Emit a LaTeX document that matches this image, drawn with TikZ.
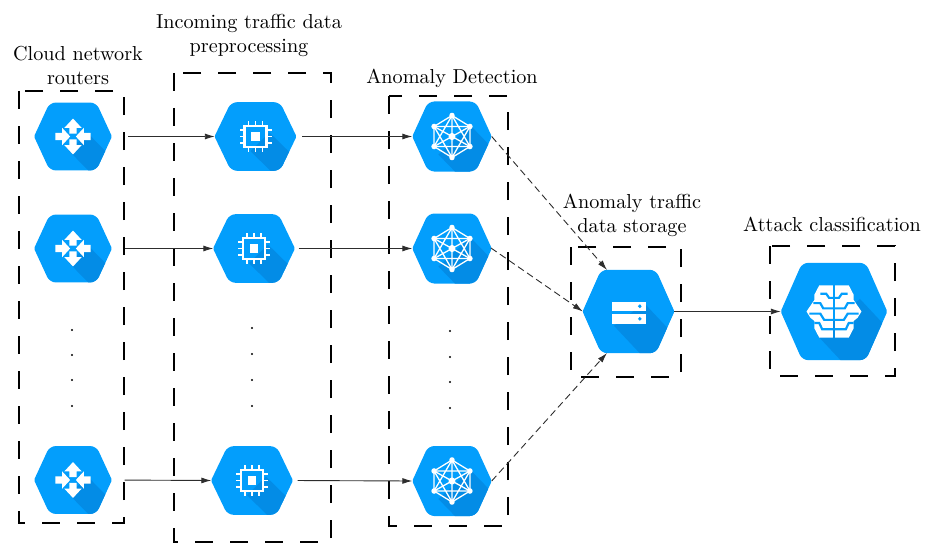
\documentclass[tikz,border=0pt]{standalone}
\usepackage{fontspec}
\setmainfont{lmroman10-regular.otf}
\usepackage{xcolor}
\usepackage{tikz}
\usetikzlibrary{arrows.meta}
\definecolor{hexblue}{RGB}{3, 158, 252}
\definecolor{hexshade}{RGB}{3, 140, 230}
\definecolor{linegray}{RGB}{45, 45, 45}

% Hexagon with the diagonal shadow, drawn around the origin
% (#1,#2) and (#3,#4) are where the shadow leaves the icon
\newcommand{\hexbase}[4]{
    \begin{scope}
    \clip[rounded corners=6pt] (0,-35) -- (24.5,-35) [rounded corners=1.5pt] -- (41,0) [rounded corners=6pt] -- (24.5,35) -- (-24.5,35) [rounded corners=1.5pt] -- (-41,0) [rounded corners=6pt] -- (-24.5,-35) -- cycle;
    \fill[hexblue] (-50,-50) rectangle (50,50);
    \fill[hexshade] (#1,#2) -- ++(60,60) -- ({#3+60},{#4+60}) -- (#3,#4) -- cycle;
    \end{scope}
}

\tikzset{
    hexspot/.style={inner sep=0pt, minimum width=#1, minimum height=60pt},
    hexspot/.default=80pt,
    caption/.style={align=center, font=\fontsize{20.2}{24}\selectfont},
    dashbox/.style={draw=black, line width=1.05pt, dash pattern=on 18pt off 17pt},
    flow/.style={draw=linegray, line width=0.9pt, -{Latex[length=10pt,width=6pt]}},
    dashflow/.style={flow, dash pattern=on 7pt off 4pt},
    pics/routerhex/.style={code={
        \hexbase{15}{-4}{-4}{15}
        \foreach \a in {0,180} {
            \fill[white, rotate=\a] (0,-18.5) -- (9,-9) -- (3.8,-9) -- (3.8,-3) -- (-3.8,-3) -- (-3.8,-9) -- (-9,-9) -- cycle;
            \fill[white, rotate=\a] (-3,0) -- (-11.5,-9) -- (-11.5,-3.8) -- (-18.5,-3.8) -- (-18.5,3.8) -- (-11.5,3.8) -- (-11.5,9) -- cycle;
        }
    }},
    pics/cpuhex/.style={code={
        \hexbase{14}{-4}{-5}{15}
        \draw[white, line width=2.3pt] (-11,-11) rectangle (11,11);
        \fill[white] (-4.3,-4.3) rectangle (4.3,4.3);
        \foreach \a in {0,90,180,270} {
            \foreach \p in {-7,0,7} {
                \draw[white, line width=1.8pt, rotate=\a] (\p,-11) -- (\p,-16);
            }
        }
    }},
    pics/nethex/.style={code={
        \hexbase{19}{-11}{-14}{18}
        \coordinate (n1) at (0,-21);
        \coordinate (n2) at (18.5,-10);
        \coordinate (n3) at (18.5,10);
        \coordinate (n4) at (0,21);
        \coordinate (n5) at (-18.5,10);
        \coordinate (n6) at (-18.5,-10);
        \draw[white, line width=1.3pt] (n1) -- (n2) -- (n3) -- (n4) -- (n5) -- (n6) -- cycle;
        \draw[white, line width=1.3pt] (n1) -- (n4) (n2) -- (n5) (n3) -- (n6);
        \draw[white, line width=1.3pt] (n1) -- (n3) -- (n5) -- cycle (n2) -- (n4) -- (n6) -- cycle;
        \foreach \n in {n1,n2,n3,n4,n5,n6} {
            \fill[white] (\n) circle (2.8pt);
        }
        \fill[white] (0,0) circle (3.6pt);
    }},
    pics/storagehex/.style={code={
        \hexbase{14}{-7}{-13}{12}
        \begin{scope}[scale=0.88]
        \foreach \y in {-5,7} {
            \fill[white] (-16.5,\y-4.5) rectangle (18,\y+4.5);
            \fill[hexblue] (11.5,\y) circle (1.9pt);
        }
        \end{scope}
    }},
    pics/brainhex/.style={code={
        \hexbase{20}{-9}{-13}{17}
        \begin{scope}[scale=0.755]
        \foreach \s in {1,-1} {
            \begin{scope}[xscale=\s]
            \fill[white] (1.2,-25) -- (15,-25) -- (20,-16) -- (20,-11) -- (28,0) -- (24,6) -- (20,9) -- (20,16) -- (15,25) -- (1.2,25) -- cycle;
            \draw[hexblue, line width=2.2pt] (0.5,-13) -- (5,-13) -- (8,-17) -- (14,-17);
            \draw[hexblue, line width=2.2pt] (0.5,-3) -- (11,-3) -- (14,-8) -- (21,-8);
            \draw[hexblue, line width=2.2pt] (25,2) -- (14,2) -- (10,8) -- (0.5,8);
            \draw[hexblue, line width=2.2pt] (20,11) -- (15,11) -- (12,17) -- (0.5,17);
            \end{scope}
        }
        \end{scope}
    }}
}

\begin{document}
\begin{tikzpicture}[x=1pt, y=-1pt]
\useasboundingbox (0,0) rectangle (927,543);

% Dashed groups
\foreach \xa/\ya/\xb/\yb in {19/91/124/523, 174/73/331/542, 389/96/508/526, 571/247/681/377, 770/246/895/376} {
    \draw[dashbox] (\xa,\ya) rectangle (\xb,\yb);
}

% Routers
\foreach \name/\y in {r1/136.5, r2/248.5, r3/480} {
    \node[hexspot=77pt] (\name) at (73,\y) {};
    \pic[xscale=0.95, yscale=0.97] at (\name) {routerhex};
}

% Preprocessing
\foreach \name/\x/\y in {p1/255.5/136.5, p2/254/248.5, p3/252/480.5} {
    \node[hexspot=81pt] (\name) at (\x,\y) {};
    \pic[xscale=1, yscale=0.98] at (\name) {cpuhex};
}

% Detection
\foreach \name/\y in {a1/136.5, a2/248.5, a3/481} {
    \node[hexspot=79pt] (\name) at (452,\y) {};
    \pic[xscale=0.97, yscale=1] at (\name) {nethex};
}

% Storage and classifier
\node[hexspot=91pt] (store) at (628.5,311.5) {};
\pic[xscale=1.12, yscale=1.19] at (store) {storagehex};
\node[hexspot=106pt] (brain) at (834,311.5) {};
\pic[xscale=1.3, yscale=1.39] at (brain) {brainhex};

% Free ends on the storage hexagon
\coordinate (storetop) at (607,270);
\coordinate (storebot) at (607,353);

% Dots
\foreach \x/\ya/\yb/\yc/\yd in {72/330/355/380/406, 252/328/354/380/406, 450/331/357/382/408} {
    \foreach \y in {\ya,\yb,\yc,\yd} {
        \fill[black] (\x,\y) circle (1.2pt);
    }
}

% Connectors
\draw[flow, shorten <=16.5pt] (r1.east) -- (p1.west);
\draw[flow, shorten <=13pt] (r2.east) -- (p2.west);
\draw[flow, shorten <=13pt] (r3.east) -- (p3.west);
\draw[flow, shorten <=6pt] (p1.east) -- (a1.west);
\draw[flow, shorten <=4pt] (p2.east) -- (a2.west);
\draw[flow, shorten <=5pt] (p3.east) -- (a3.west);
\draw[dashflow] (a1.east) -- (storetop);
\draw[dashflow, shorten <=-1pt] (a2.east) -- (store.west);
\draw[dashflow] (a3.east) -- (storebot);
\draw[flow] (store.east) -- (brain.west);

% Titles
\node[caption] (titleroute) at (78,65) {Cloud network\\routers};
\node[caption] (titlepre) at (249,35) {Incoming traffic data\\preprocessing};
\node[caption] (titledetect) at (452,78) {Anomaly Detection};
\node[caption] (titlestore) at (632,215) {Anomaly traffic\\data storage};
\node[caption] (titleattack) at (832,224) {Attack classification};
\end{tikzpicture}
\end{document}
